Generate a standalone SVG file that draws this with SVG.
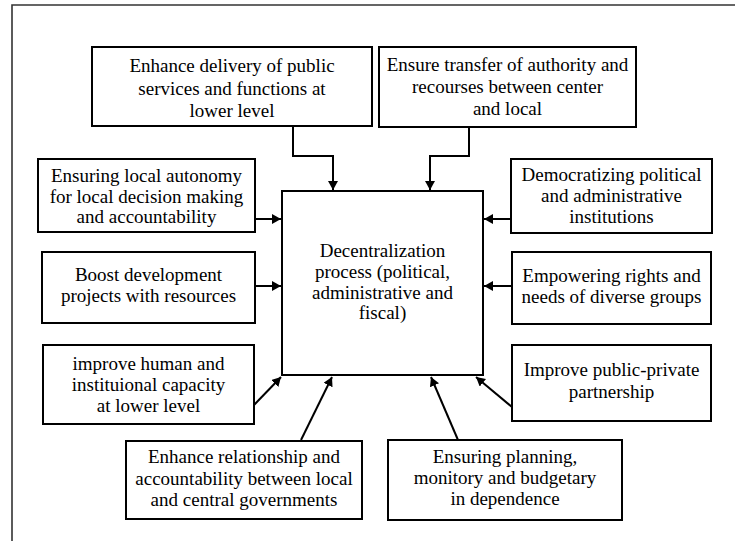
<svg xmlns="http://www.w3.org/2000/svg" width="735" height="541" viewBox="0 0 735 541">
  <style>
    .box { fill: #ffffff; stroke: #000000; stroke-width: 2; }
    .lbl { font-family: "Liberation Serif", "Times New Roman", serif; font-size: 19px; fill: #000000; text-anchor: middle; }
    .wire { fill: none; stroke: #000000; stroke-width: 2; marker-end: url(#head); }
    .frame { fill: none; stroke: #333333; stroke-width: 1.6; }
  </style>
  <defs>
    <marker id="head" markerUnits="userSpaceOnUse" markerWidth="10" markerHeight="10" refX="9" refY="5" orient="auto">
      <path d="M0,0 L9,5 L0,10 z" fill="#000000"/>
    </marker>
  </defs>

  <rect x="0" y="0" width="735" height="541" fill="#ffffff"/>
  <!-- outer frame, open to the right and bottom -->
  <path class="frame" d="M12,541 V5 H735"/>

  <!-- connectors -->
  <g id="connectors">
    <path class="wire" d="M293,126 V156 H333 V190"/>
    <path class="wire" d="M469,127 V156 H430 V190"/>
    <path class="wire" d="M255,219 H281"/>
    <path class="wire" d="M255,286 H281"/>
    <path class="wire" d="M254,405 L281,377"/>
    <path class="wire" d="M301,440 L332,377"/>
    <path class="wire" d="M511,219 H484"/>
    <path class="wire" d="M512,286 H484"/>
    <path class="wire" d="M512,407 L476,377"/>
    <path class="wire" d="M458,440 L431,377"/>
  </g>

  <!-- central node -->
  <g id="center">
    <rect class="box" x="282" y="191" width="201" height="184"/>
    <text class="lbl" x="382.5" y="257">Decentralization</text>
    <text class="lbl" x="382.5" y="278">process (political,</text>
    <text class="lbl" x="382.5" y="298.5">administrative and</text>
    <text class="lbl" x="382.5" y="319">fiscal)</text>
  </g>

  <g id="n-delivery">
    <rect class="box" x="92" y="47" width="280" height="79"/>
    <text class="lbl" x="232" y="72">Enhance delivery of public</text>
    <text class="lbl" x="232" y="94.5">services and functions at</text>
    <text class="lbl" x="232" y="117">lower level</text>
  </g>

  <g id="n-transfer">
    <rect class="box" x="379" y="47" width="257" height="80"/>
    <text class="lbl" x="507.5" y="71">Ensure transfer of authority and</text>
    <text class="lbl" x="507.5" y="93">recourses between center</text>
    <text class="lbl" x="507.5" y="115">and local</text>
  </g>

  <g id="n-autonomy">
    <rect class="box" x="38" y="159" width="217" height="73"/>
    <text class="lbl" x="146.5" y="182">Ensuring local autonomy</text>
    <text class="lbl" x="146.5" y="202.5">for local decision making</text>
    <text class="lbl" x="146.5" y="223">and accountability</text>
  </g>

  <g id="n-boost">
    <rect class="box" x="42" y="252" width="213" height="71"/>
    <text class="lbl" x="148.5" y="281">Boost development</text>
    <text class="lbl" x="148.5" y="302">projects with resources</text>
  </g>

  <g id="n-capacity">
    <rect class="box" x="43" y="345" width="211" height="79"/>
    <text class="lbl" x="148.5" y="370">improve human and</text>
    <text class="lbl" x="148.5" y="391">instituional capacity</text>
    <text class="lbl" x="148.5" y="412">at lower level</text>
  </g>

  <g id="n-relationship">
    <rect class="box" x="126" y="441" width="236" height="78"/>
    <text class="lbl" x="244" y="463">Enhance relationship and</text>
    <text class="lbl" x="244" y="484.5">accountability between local</text>
    <text class="lbl" x="244" y="505.5">and central governments</text>
  </g>

  <g id="n-democratizing">
    <rect class="box" x="511" y="159" width="201" height="74"/>
    <text class="lbl" x="611.5" y="181">Democratizing political</text>
    <text class="lbl" x="611.5" y="202">and administrative</text>
    <text class="lbl" x="611.5" y="223">institutions</text>
  </g>

  <g id="n-empowering">
    <rect class="box" x="512" y="252" width="199" height="72"/>
    <text class="lbl" x="611.5" y="282">Empowering rights and</text>
    <text class="lbl" x="611.5" y="303">needs of diverse groups</text>
  </g>

  <g id="n-partnership">
    <rect class="box" x="512" y="345" width="199" height="76"/>
    <text class="lbl" x="611.5" y="376">Improve public-private</text>
    <text class="lbl" x="611.5" y="398">partnership</text>
  </g>

  <g id="n-planning">
    <rect class="box" x="388" y="440" width="234" height="80"/>
    <text class="lbl" x="505" y="463">Ensuring planning,</text>
    <text class="lbl" x="505" y="484">monitory and budgetary</text>
    <text class="lbl" x="505" y="505">in dependence</text>
  </g>
</svg>
